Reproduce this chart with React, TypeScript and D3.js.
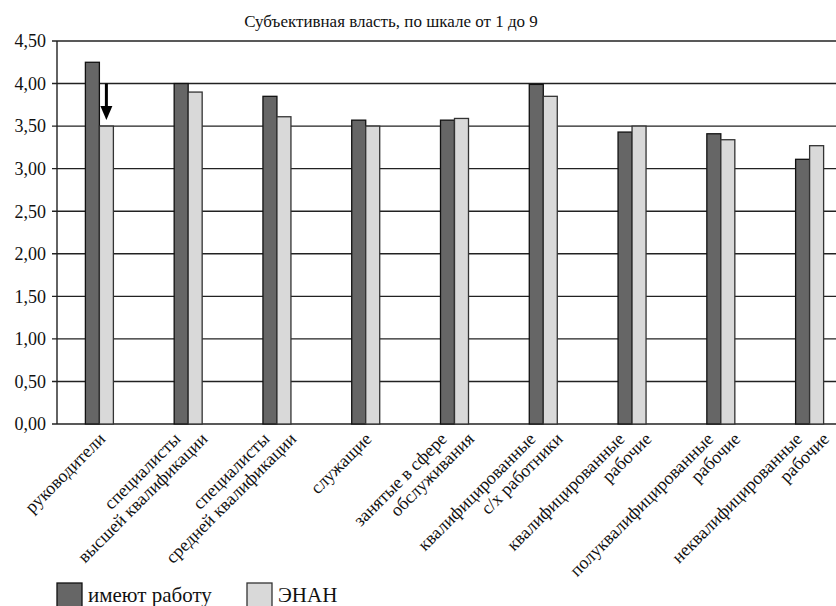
import * as React from "react";
import * as d3 from "d3";

const TITLE = "Субъективная власть, по шкале от 1 до 9";

// category labels, split into lines as in the picture
const CATEGORIES: string[][] = [
  ["руководители"],
  ["специалисты", "высшей квалификации"],
  ["специалисты", "средней квалификации"],
  ["служащие"],
  ["занятые в сфере", "обслуживания"],
  ["квалифицированные", "с/х работники"],
  ["квалифицированные", "рабочие"],
  ["полуквалифицированные", "рабочие"],
  ["неквалифицированные", "рабочие"],
];

const SERIES_NAMES = ["имеют работу", "ЭНАН"];
const EMPLOYED = [4.25, 4.0, 3.85, 3.57, 3.57, 3.99, 3.43, 3.41, 3.11];
const ENAN = [3.5, 3.9, 3.61, 3.5, 3.59, 3.85, 3.5, 3.34, 3.27];
const Y_TICKS = [0, 0.5, 1, 1.5, 2, 2.5, 3, 3.5, 4, 4.5];

const W = 836;
const H = 606;
const FONT = '"Liberation Serif", "DejaVu Serif", "Times New Roman", serif';
const FILLS = ["#666666", "#d9d9d9"];
const STROKES = ["#111111", "#333333"];

export default function App() {
  const ref = React.useRef<SVGSVGElement | null>(null);

  React.useEffect(() => {
    document.body.style.margin = "0";
    if (!ref.current) return;
    const svg = d3.select(ref.current);
    svg.selectAll("*").remove();

    const left = 57;
    // the plot runs past the right edge of the picture (it is cropped)
    const x = d3.scaleBand<number>().domain(d3.range(CATEGORIES.length)).range([55, 854]);
    const y = d3.scaleLinear().domain([0, 4.5]).range([424, 41]);
    const barW = 14;

    svg.attr("width", W).attr("height", H);

    svg.append("rect").attr("width", W).attr("height", H).attr("fill", "#fff");

    const text = () => svg.append("text").style("font-family", FONT).attr("fill", "#111");

    text()
      .attr("x", 391)
      .attr("y", 27)
      .attr("text-anchor", "middle")
      .attr("font-size", 17)
      .text(TITLE);

    // grid + y ticks
    Y_TICKS.forEach((t) => {
      svg.append("line")
        .attr("x1", left - 5)
        .attr("x2", W)
        .attr("y1", y(t))
        .attr("y2", y(t))
        .attr("stroke", "#222")
        .attr("stroke-width", 1.4);
      text()
        .attr("x", left - 11)
        .attr("y", y(t))
        .attr("dy", "0.35em")
        .attr("text-anchor", "end")
        .attr("font-size", 18)
        .text(d3.format(".2f")(t).replace(".", ","));
    });

    svg.append("line")
      .attr("x1", left)
      .attr("x2", left)
      .attr("y1", y(4.5))
      .attr("y2", y(0))
      .attr("stroke", "#222")
      .attr("stroke-width", 1.4);

    // bars
    [EMPLOYED, ENAN].forEach((vals, s) => {
      vals.forEach((v, i) => {
        const cx = (x(i) ?? 0) + x.bandwidth() / 2;
        svg.append("rect")
          .attr("x", cx - barW + s * barW)
          .attr("y", y(v))
          .attr("width", barW)
          .attr("height", y(0) - y(v))
          .attr("fill", FILLS[s])
          .attr("stroke", STROKES[s])
          .attr("stroke-width", 1.3);
      });
    });

    // arrow over the first light bar
    const ax = (x(0) ?? 0) + x.bandwidth() / 2 + barW / 2;
    svg.append("line")
      .attr("x1", ax)
      .attr("x2", ax)
      .attr("y1", y(4.0))
      .attr("y2", y(3.5) - 18)
      .attr("stroke", "#000")
      .attr("stroke-width", 3);
    svg.append("path")
      .attr("d", `M${ax - 6},${y(3.5) - 20} L${ax + 6},${y(3.5) - 20} L${ax},${y(3.5) - 6} Z`)
      .attr("fill", "#000");

    // rotated category labels
    CATEGORIES.forEach((lines, i) => {
      const cx = (x(i) ?? 0) + x.bandwidth() / 2;
      const n = lines.length;
      lines.forEach((line, j) => {
        const px = cx + 7 + (j - (n - 1) / 2) * 27;
        text()
          .attr("transform", `translate(${px},440) rotate(-45)`)
          .attr("text-anchor", "end")
          .attr("font-size", 18)
          .text(line);
      });
    });

    // legend
    const legendX = [57, 247];
    SERIES_NAMES.forEach((name, s) => {
      svg.append("rect")
        .attr("x", legendX[s])
        .attr("y", 583)
        .attr("width", 25)
        .attr("height", 26)
        .attr("fill", FILLS[s])
        .attr("stroke", STROKES[s])
        .attr("stroke-width", 1.3);
      text()
        .attr("x", legendX[s] + 31)
        .attr("y", 602)
        .attr("font-size", 21)
        .text(name);
    });
  }, []);

  return <svg ref={ref} style={{ display: "block" }} />;
}
